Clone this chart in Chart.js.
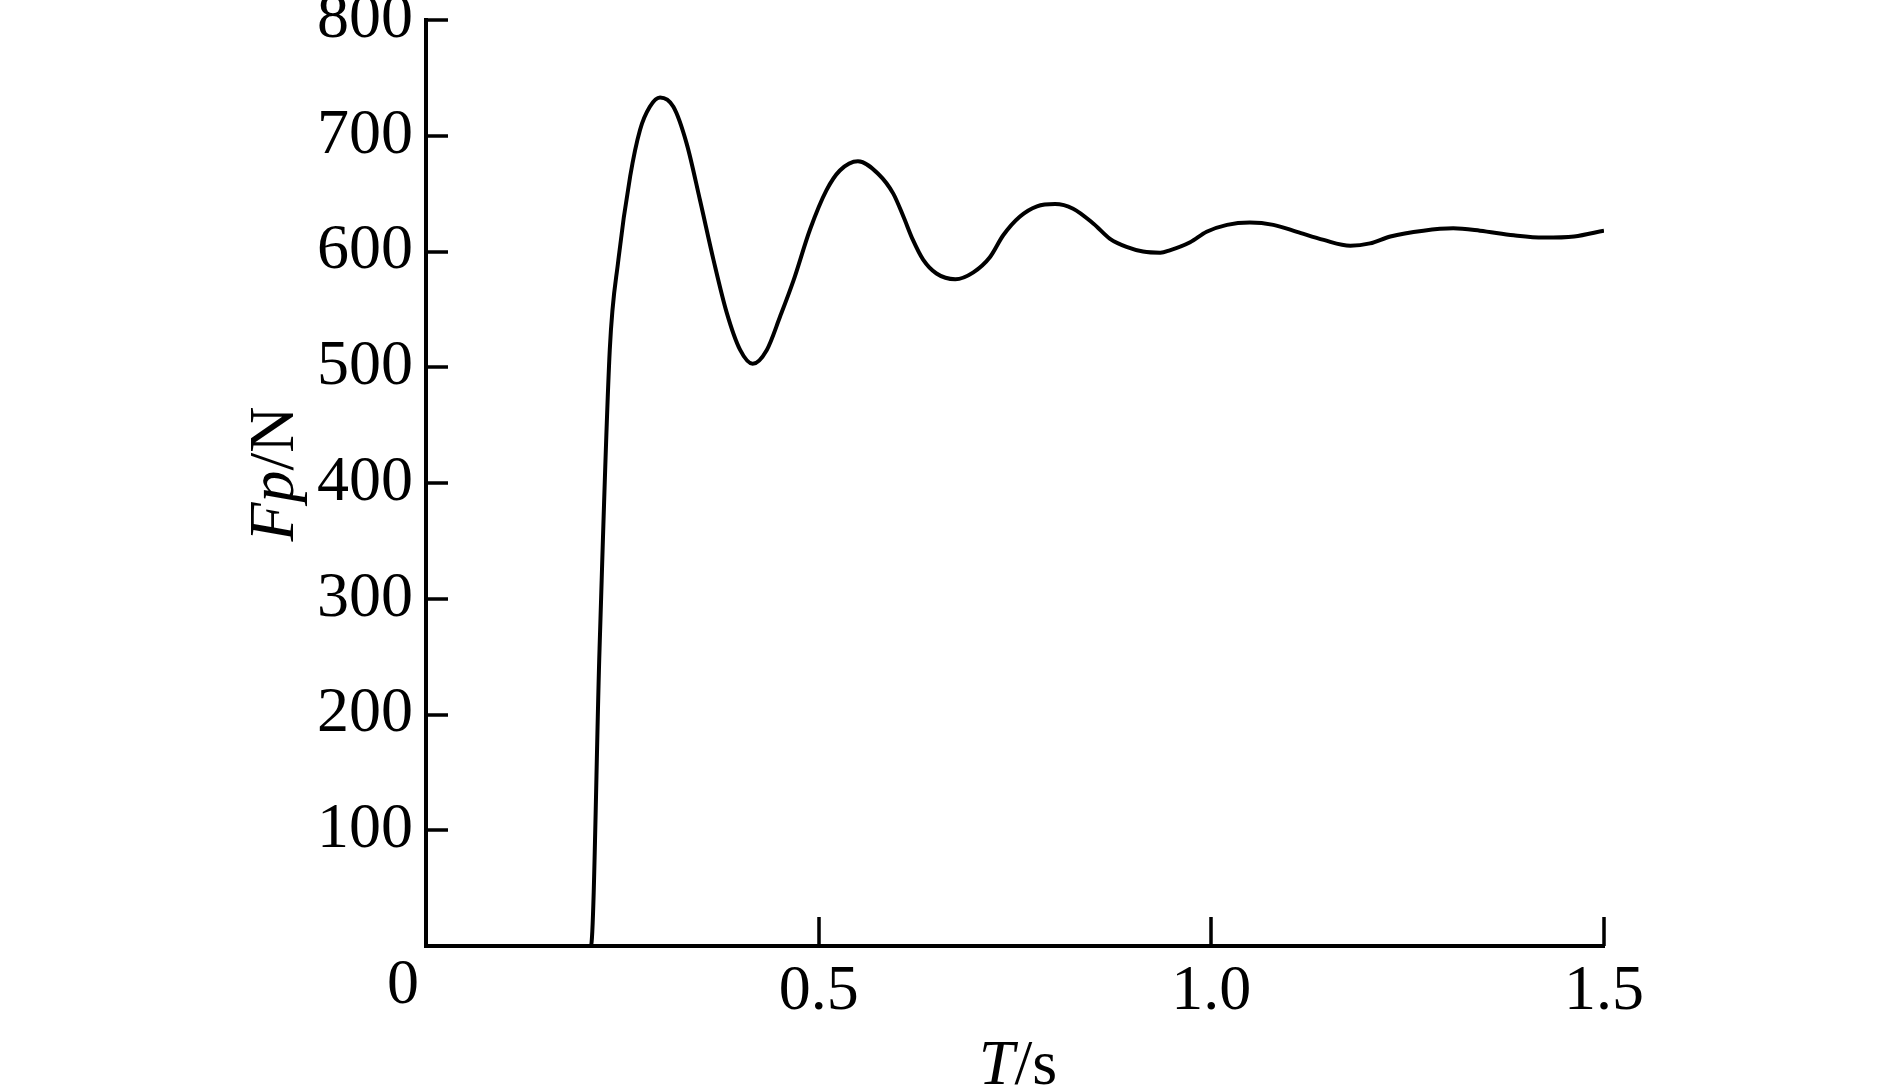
<!DOCTYPE html>
<html><head><meta charset="utf-8">
<script src="https://cdn.jsdelivr.net/npm/chart.js@4/dist/chart.umd.min.js"></script>
<style>html,body{margin:0;padding:0;background:#fff;}canvas{display:block;}</style>
</head><body>
<canvas id="c" width="1889" height="1086"></canvas>
<script>
// Time (s)
const times = [0, 0.210, 0.221, 0.234, 0.245, 0.260, 0.2725, 0.285, 0.298, 0.315, 0.332, 0.349, 0.366, 0.383, 0.400, 0.416, 0.434, 0.451, 0.468, 0.489, 0.510, 0.527, 0.550, 0.576, 0.595, 0.608, 0.620, 0.633, 0.650, 0.674, 0.697, 0.718, 0.735, 0.756, 0.778, 0.801, 0.824, 0.850, 0.871, 0.892, 0.913, 0.935, 0.947, 0.973, 0.994, 1.020, 1.049, 1.079, 1.109, 1.143, 1.177, 1.202, 1.228, 1.270, 1.308, 1.342, 1.385, 1.423, 1.462, 1.500];
// Force Fp (N)
const forces = [0, 0, 257, 515, 593, 665, 705, 725, 733, 725, 693, 644, 593, 547, 515, 503, 515, 544, 575, 619, 653, 670, 678, 667, 650, 630, 610, 593, 581, 576, 582, 595, 614, 630, 639, 641, 637, 624, 611, 604, 600, 599, 601, 608, 617, 623, 625, 623, 617, 610, 605, 607, 613, 618, 620, 618, 614, 612, 613, 618];
const xTickValues = [0, 0.5, 1.0, 1.5];
const yTickValues = [100, 200, 300, 400, 500, 600, 700, 800];
const xTitleParts = [['T', true], ['/s', false]];
const yTitleParts = [['Fp', true], ['/N', false]];

const FONT = "'Liberation Serif', 'Times New Roman', serif";
const FS = 64;

function drawParts(ctx, parts, cx, cy) {
  let total = 0;
  const widths = parts.map(p => {
    ctx.font = (p[1] ? 'italic ' : '') + FS + 'px ' + FONT;
    const w = ctx.measureText(p[0]).width; total += w; return w;
  });
  let x = cx - total / 2;
  parts.forEach((p, i) => {
    ctx.font = (p[1] ? 'italic ' : '') + FS + 'px ' + FONT;
    ctx.fillText(p[0], x, cy);
    x += widths[i];
  });
}

const decor = {
  id: 'decor',
  afterDraw(chart) {
    const ctx = chart.ctx, xs = chart.scales.x, ys = chart.scales.y, a = chart.chartArea;
    ctx.save();
    ctx.strokeStyle = '#000';
    ctx.lineWidth = 3.5;
    ctx.beginPath();
    yTickValues.forEach(v => {
      const y = Math.round(ys.getPixelForValue(v));
      ctx.moveTo(a.left, y); ctx.lineTo(a.left + 22, y);
    });
    xTickValues.filter(v => v > 0).forEach(v => {
      const x = Math.round(xs.getPixelForValue(v));
      ctx.moveTo(x, a.bottom); ctx.lineTo(x, a.bottom - 29);
    });
    ctx.stroke();
    ctx.fillStyle = '#000';
    ctx.font = FS + 'px ' + FONT;
    ctx.textAlign = 'center';
    ctx.textBaseline = 'middle';
    ctx.fillText('0', xs.getPixelForValue(0) - 23, a.bottom + 40);
    ctx.textAlign = 'left';
    ctx.textBaseline = 'alphabetic';
    drawParts(ctx, xTitleParts, (a.left + a.right) / 2 + 3, a.bottom + 138);
    ctx.save();
    ctx.translate(a.left - 155 + 22, 474);
    ctx.rotate(-Math.PI / 2);
    drawParts(ctx, yTitleParts, 0, 0);
    ctx.restore();
    ctx.restore();
  }
};

new Chart(document.getElementById('c'), {
  type: 'line',
  data: {
    datasets: [{
      data: times.map((t, i) => ({ x: t, y: forces[i] })),
      borderColor: '#000',
      borderWidth: 4,
      pointRadius: 0,
      fill: false,
      tension: 0.4,
      cubicInterpolationMode: 'monotone'
    }]
  },
  options: {
    responsive: false,
    animation: false,
    devicePixelRatio: 1,
    layout: { padding: { left: 0, top: 20, right: 285, bottom: 0 } },
    plugins: { legend: { display: false }, tooltip: { enabled: false } },
    scales: {
      x: {
        type: 'linear', min: 0, max: 1.5,
        grid: { display: false, drawTicks: false },
        border: { display: true, color: '#000', width: 4 },
        afterBuildTicks: s => { s.ticks = xTickValues.map(v => ({ value: v })); },
        ticks: {
          color: '#000', padding: 8, maxRotation: 0, autoSkip: false,
          font: { family: FONT, size: FS },
          callback: v => v === 0 ? '' : v.toFixed(1)
        },
        afterFit: s => { s.height = 140; s.paddingLeft = 0; s.paddingRight = 0; }
      },
      y: {
        type: 'linear', min: 0, max: 800,
        grid: { display: false, drawTicks: false },
        border: { display: true, color: '#000', width: 4 },
        afterBuildTicks: s => { s.ticks = [0].concat(yTickValues).map(v => ({ value: v })); },
        ticks: {
          color: '#000', padding: 13, autoSkip: false,
          font: { family: FONT, size: FS },
          callback: v => v === 0 ? '' : String(v)
        },
        afterFit: s => { s.width = 426; s.paddingTop = 0; s.paddingBottom = 0; }
      }
    }
  },
  plugins: [decor]
});
</script>
</body></html>
